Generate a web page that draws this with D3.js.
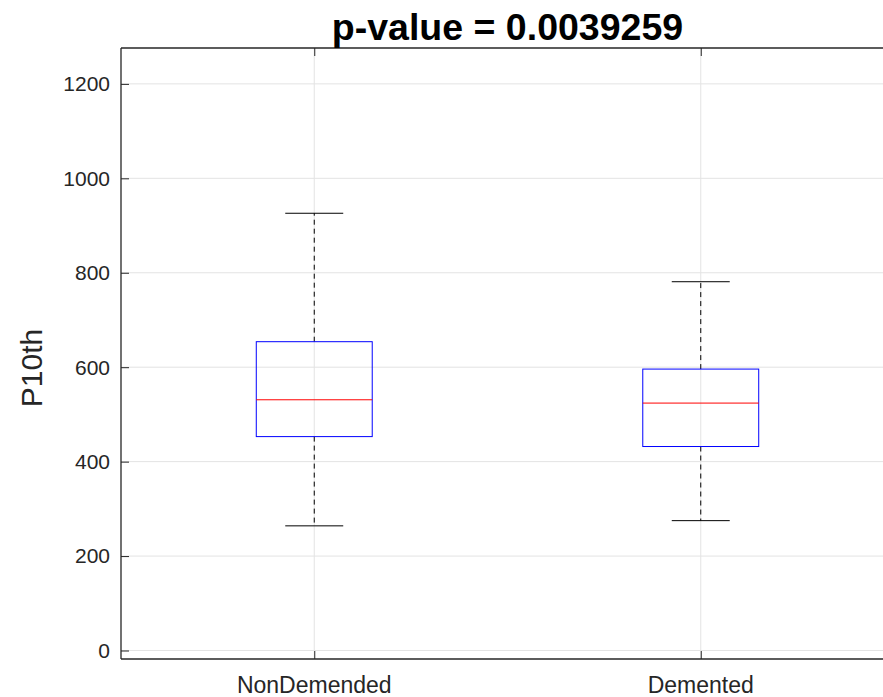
<!DOCTYPE html>
<html>
<head>
<meta charset="utf-8">
<script src="https://cdn.jsdelivr.net/npm/d3@7"></script>
<style>
  body { margin: 0; background: #fff; }
  svg { display: block; font-family: "Liberation Sans", Arial, sans-serif; }
</style>
</head>
<body>
<div id="chart"></div>
<script>
// groups and box stats
const groups = ['NonDemended', 'Demented'];
const lowerWhisker = [264, 275];
const q1 = [453, 432];
const medians = [531, 524];
const q3 = [654, 596];
const upperWhisker = [926, 781];
const yTicks = [0, 200, 400, 600, 800, 1000, 1200];
const title = 'p-value = 0.0039259';
const yLabel = 'P10th';

const W = 883, H = 697;
const margin = {top: 48, left: 121};
const plotW = 773, plotH = 611;   // right edge runs off the picture

const svg = d3.select('#chart').append('svg')
    .attr('width', W)
    .attr('height', H);

const g = svg.append('g')
    .attr('transform', `translate(${margin.left}, ${margin.top})`);

// matlab style: positions 1..n, xlim [0.5, n+0.5]
const xScale = d3.scaleLinear()
    .domain([0.5, groups.length + 0.5])
    .range([0, plotW]);

const yScale = d3.scaleLinear()
    .domain([-18, 1276])
    .range([plotH, 0]);

const axisColor = '#262626';
const gridColor = '#e3e3e3';

// grid
g.append('g').selectAll('line')
    .data(yTicks)
    .join('line')
    .attr('x1', 0).attr('x2', plotW)
    .attr('y1', d => yScale(d)).attr('y2', d => yScale(d))
    .attr('stroke', gridColor).attr('stroke-width', 1);

g.append('g').selectAll('line')
    .data(groups.map((d, i) => i + 1))
    .join('line')
    .attr('x1', d => xScale(d)).attr('x2', d => xScale(d))
    .attr('y1', 0).attr('y2', plotH)
    .attr('stroke', gridColor).attr('stroke-width', 1);

// axes with inward ticks
const yAxis = g.append('g')
    .call(d3.axisRight(yScale).tickValues(yTicks).tickSize(8).tickFormat(''));
yAxis.select('.domain').remove();
yAxis.selectAll('line').attr('stroke', axisColor);

g.append('g').selectAll('text')
    .data(yTicks)
    .join('text')
    .attr('x', -11)
    .attr('y', d => yScale(d))
    .attr('dy', '0.35em')
    .attr('text-anchor', 'end')
    .attr('font-size', 21)
    .attr('fill', axisColor)
    .text(d => d);

const xPos = groups.map((d, i) => i + 1);
const xAxisBottom = g.append('g')
    .attr('transform', `translate(0, ${plotH})`)
    .call(d3.axisTop(xScale).tickValues(xPos).tickSize(8).tickFormat(''));
xAxisBottom.select('.domain').remove();
xAxisBottom.selectAll('line').attr('stroke', axisColor);

const xAxisTop = g.append('g')
    .call(d3.axisBottom(xScale).tickValues(xPos).tickSize(8).tickFormat(''));
xAxisTop.select('.domain').remove();
xAxisTop.selectAll('line').attr('stroke', axisColor);

g.append('g').selectAll('text')
    .data(groups)
    .join('text')
    .attr('x', (d, i) => xScale(i + 1))
    .attr('y', plotH + 34)
    .attr('text-anchor', 'middle')
    .attr('font-size', 23)
    .attr('fill', axisColor)
    .text(d => d);

// axes frame lines
g.append('line').attr('x1', 0).attr('x2', 0).attr('y1', 0).attr('y2', plotH)
    .attr('stroke', axisColor).attr('stroke-width', 1.3);
g.append('line').attr('x1', 0).attr('x2', plotW).attr('y1', plotH).attr('y2', plotH)
    .attr('stroke', axisColor).attr('stroke-width', 1.3);
g.append('line').attr('x1', 0).attr('x2', plotW).attr('y1', 0).attr('y2', 0)
    .attr('stroke', axisColor).attr('stroke-width', 1.3);

// boxes
const boxHalf = 0.15, capHalf = 0.075;
const boxes = g.append('g').selectAll('g')
    .data(groups.map((d, i) => ({
        pos: i + 1, lo: lowerWhisker[i], q1: q1[i], med: medians[i], q3: q3[i], hi: upperWhisker[i]
    })))
    .join('g');

// whiskers
boxes.append('line')
    .attr('x1', d => xScale(d.pos)).attr('x2', d => xScale(d.pos))
    .attr('y1', d => yScale(d.q3)).attr('y2', d => yScale(d.hi))
    .attr('stroke', '#000').attr('stroke-width', 1).attr('stroke-dasharray', '5,4');
boxes.append('line')
    .attr('x1', d => xScale(d.pos)).attr('x2', d => xScale(d.pos))
    .attr('y1', d => yScale(d.q1)).attr('y2', d => yScale(d.lo))
    .attr('stroke', '#000').attr('stroke-width', 1).attr('stroke-dasharray', '5,4');

// caps
boxes.append('line')
    .attr('x1', d => xScale(d.pos - capHalf)).attr('x2', d => xScale(d.pos + capHalf))
    .attr('y1', d => yScale(d.hi)).attr('y2', d => yScale(d.hi))
    .attr('stroke', '#000').attr('stroke-width', 1);
boxes.append('line')
    .attr('x1', d => xScale(d.pos - capHalf)).attr('x2', d => xScale(d.pos + capHalf))
    .attr('y1', d => yScale(d.lo)).attr('y2', d => yScale(d.lo))
    .attr('stroke', '#000').attr('stroke-width', 1);

boxes.append('rect')
    .attr('x', d => xScale(d.pos - boxHalf))
    .attr('y', d => yScale(d.q3))
    .attr('width', d => xScale(d.pos + boxHalf) - xScale(d.pos - boxHalf))
    .attr('height', d => yScale(d.q1) - yScale(d.q3))
    .attr('fill', 'none')
    .attr('stroke', '#0000ff').attr('stroke-width', 1);

boxes.append('line')
    .attr('x1', d => xScale(d.pos - boxHalf)).attr('x2', d => xScale(d.pos + boxHalf))
    .attr('y1', d => yScale(d.med)).attr('y2', d => yScale(d.med))
    .attr('stroke', '#ff0000').attr('stroke-width', 1);

// title and label
svg.append('text')
    .attr('x', margin.left + plotW / 2)
    .attr('y', 40)
    .attr('text-anchor', 'middle')
    .attr('font-size', 37.5)
    .attr('font-weight', 'bold')
    .attr('fill', '#000')
    .text(title);

svg.append('text')
    .attr('transform', `translate(42, 368) rotate(-90)`)
    .attr('text-anchor', 'middle')
    .attr('font-size', 30)
    .attr('fill', axisColor)
    .text(yLabel);
</script>
</body>
</html>
